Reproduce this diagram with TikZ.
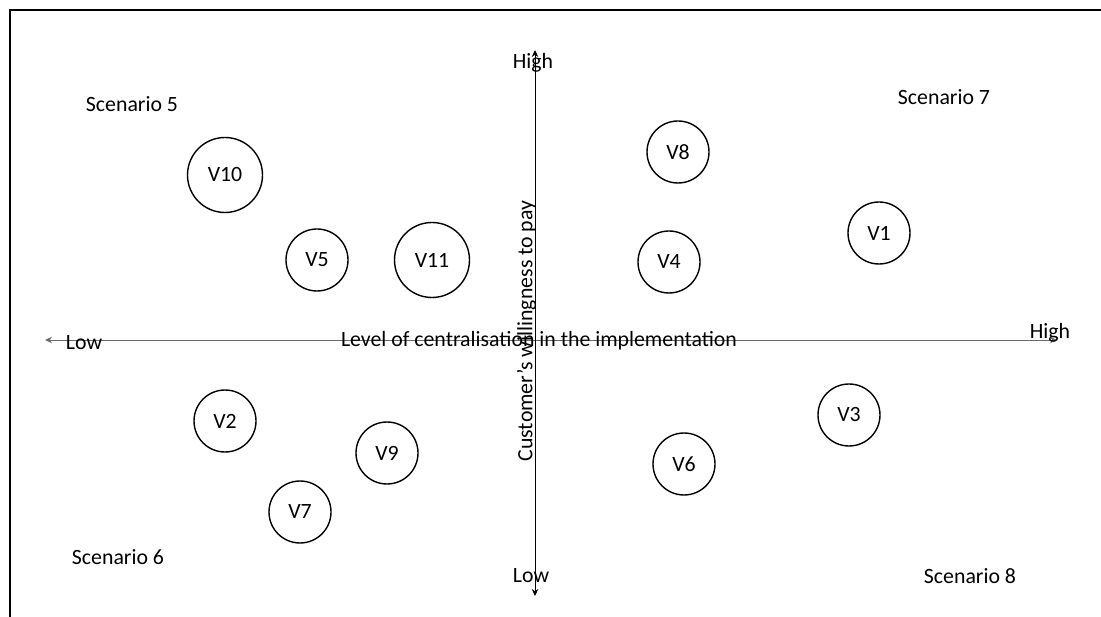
\documentclass[tikz,border=0pt]{standalone}
\usepackage{fontspec}
\setmainfont{Carlito}
\usetikzlibrary{arrows.meta}
\begin{document}
\begin{tikzpicture}[x=1pt,y=-1pt,
  vcirc/.style={draw,circle,line width=1.4pt,minimum size=62pt,inner sep=0pt,font=\fontsize{21.8}{25}\selectfont},
  vbig/.style={vcirc,minimum size=75pt},
  lbl/.style={font=\fontsize{21.8}{25}\selectfont,inner sep=0pt,yshift=-1.5pt},
  vlbl/.style={font=\fontsize{21.8}{25}\selectfont,inner sep=0pt,rotate=90},
  tip/.style={line width=0.9pt,{Stealth[length=7pt,width=6.5pt]}-{Stealth[length=7pt,width=6.5pt]}}]
\useasboundingbox (0,0) rectangle (1101,617);
\draw[line width=2pt] (10,617) -- (10,10.5) -- (1101,10.5);
% axes
\coordinate (hl) at (45,340);
\coordinate (hr) at (1057,340);
\coordinate (vt) at (535,50);
\coordinate (vb) at (535,596);
\draw[tip,draw=gray!85!black] (hl) -- (hr);
\draw[tip] (vb) -- (vt);
% axis labels
\node[lbl] (lowl) at (84,341) {Low};
\node[lbl] (highr) at (1050,331) {High};
\node[lbl] (hight) at (533,61) {High};
\node[lbl] (lowb) at (531,574) {Low};
\node[lbl] (xlab) at (539,339) {Level of centralisation in the implementation};
\node[vlbl] (ylab) at (526.5,331) {Customer’s willingness to pay};
% scenarios
\node[lbl] (s5) at (132,103) {Scenario 5};
\node[lbl] (s7) at (944,96) {Scenario 7};
\node[lbl] (s6) at (118,556) {Scenario 6};
\node[lbl] (s8) at (970,575) {Scenario 8};
% circles
\node[vbig] (v10) at (225,175) {V10};
\node[vcirc] (v5) at (317,260) {V5};
\node[vbig] (v11) at (432,260) {V11};
\node[vcirc] (v8) at (678,152) {V8};
\node[vcirc] (v4) at (669,262) {V4};
\node[vcirc] (v1) at (879,233) {V1};
\node[vcirc] (v3) at (849,415) {V3};
\node[vcirc] (v6) at (684,464) {V6};
\node[vcirc] (v2) at (225,421) {V2};
\node[vcirc] (v9) at (387,453) {V9};
\node[vcirc] (v7) at (300,512) {V7};
\end{tikzpicture}
\end{document}
